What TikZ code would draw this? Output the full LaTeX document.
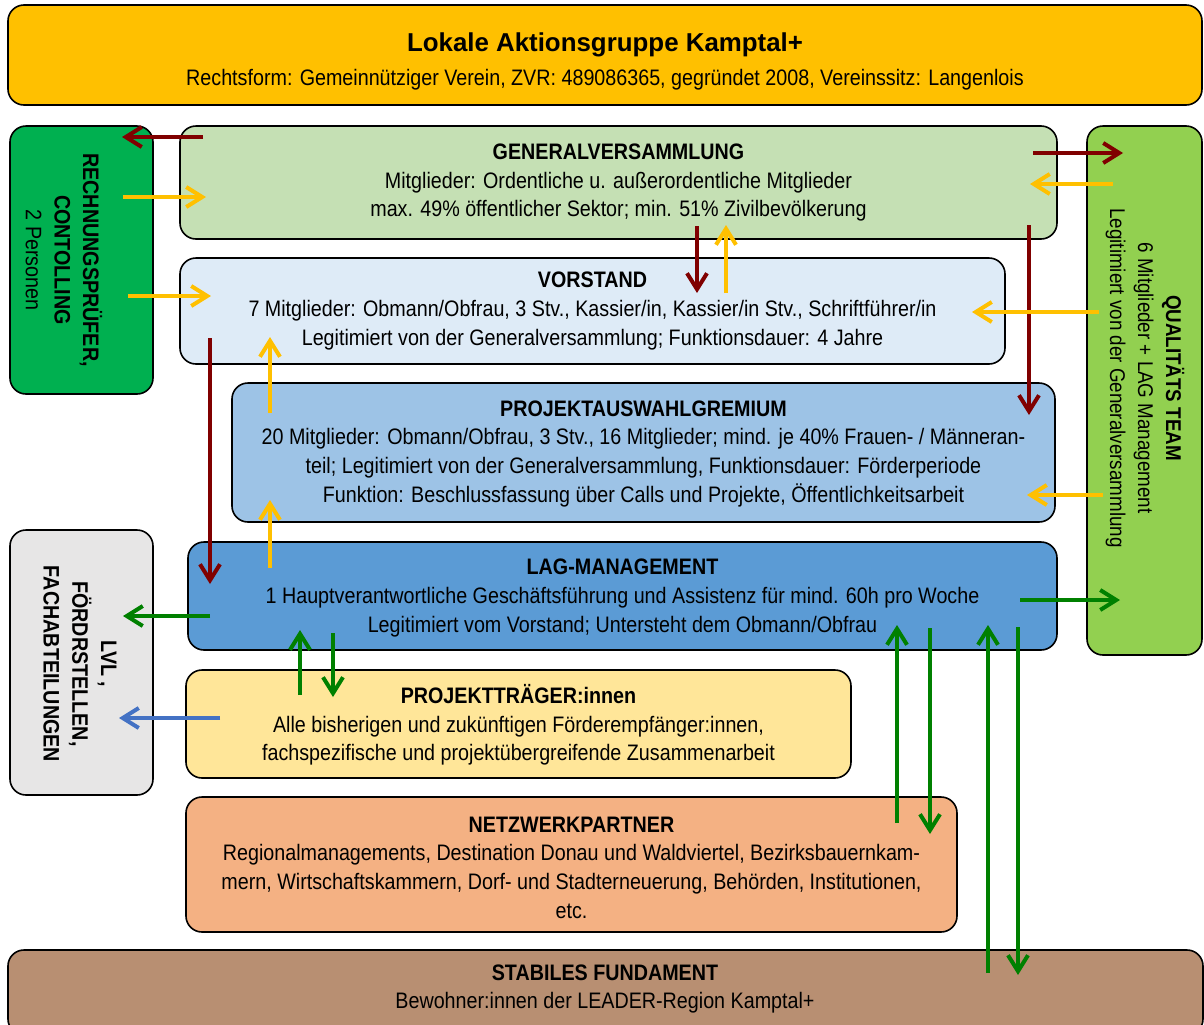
\documentclass[tikz,border=0pt]{standalone}
\usepackage{fontspec}
\setmainfont{Liberation Sans}[FakeStretch=0.88]
\newfontfamily\titlefont{Liberation Sans}
\usetikzlibrary{arrows.meta,calc}
\newdimen\px \px=0.75pt
\definecolor{cTop}{HTML}{FFC000}
\definecolor{cRP}{HTML}{00B050}
\definecolor{cGV}{HTML}{C5E0B4}
\definecolor{cVS}{HTML}{DEEBF7}
\definecolor{cPAG}{HTML}{9DC3E6}
\definecolor{cLAG}{HTML}{5B9BD5}
\definecolor{cPT}{HTML}{FFE699}
\definecolor{cNW}{HTML}{F4B183}
\definecolor{cFund}{HTML}{B88F72}
\definecolor{cLVL}{HTML}{E7E6E6}
\definecolor{cQT}{HTML}{92D050}
\definecolor{aRed}{HTML}{800000}
\definecolor{aYel}{HTML}{FFC000}
\definecolor{aGrn}{HTML}{008000}
\definecolor{aBlu}{HTML}{4472C4}
\begin{document}
\begin{tikzpicture}[x=0.75pt,y=-0.75pt,
  box/.style={draw=black, line width=1.2pt, rounded corners=16\px, inner sep=0pt, outer sep=0pt, anchor=north west},
  btxt/.style={align=center, inner sep=0pt, font=\fontsize{16.8}{21.5}\selectfont},
  arr/.style={line width=3pt, -{Straight Barb[length=12pt,width=15pt]}},
  redarr/.style={arr, draw=aRed},
  yelarr/.style={arr, draw=aYel},
  grnarr/.style={arr, draw=aGrn},
  bluarr/.style={arr, draw=aBlu}]
\useasboundingbox (0,0) rectangle (1204,1025);

% boxes
\node[box, fill=cTop, minimum width=1194\px, minimum height=100\px] (top) at (8,5) {};
\node[btxt, font=\titlefont\bfseries\fontsize{19.4}{23}\selectfont] (ttl) at ($(top.north west)+(597,40)$) {Lokale Aktionsgruppe Kamptal+};
\node[btxt] (sub) at ($(top.north west)+(597,75)$) {Rechtsform: Gemeinnütziger Verein, ZVR: 489086365, gegründet 2008, Vereinssitz: Langenlois};

\node[box, fill=cRP, minimum width=143\px, minimum height=268\px] (rp) at (10,126) {};
\node[btxt, rotate=-90] (rpt) at (64,260) {\textbf{RECHNUNGSPRÜFER,}\\ \textbf{CONTOLLING}\\ 2 Personen};

\node[box, fill=cLVL, minimum width=143\px, minimum height=265\px] (lvl) at (10,530) {};
\node[btxt, rotate=-90, font=\bfseries\fontsize{16.8}{21.5}\selectfont] (lvlt) at (80,664) {LVL ,\\ FÖRDRSTELLEN,\\ FACHABTEILUNGEN};

\node[box, fill=cQT, minimum width=115\px, minimum height=529\px] (qt) at (1087,126) {};
\node[btxt, rotate=-90, font=\fontsize{16}{21}\selectfont] (qtt) at (1145,378) {\textbf{QUALITÄTS TEAM}\\ 6 Mitglieder + LAG Management\\ Legitimiert von der Generalversammlung};

\node[box, fill=cGV, minimum width=877\px, minimum height=113\px] (gv) at (180,126) {};
\node[btxt] (gvt) at (gv.center) {\textbf{GENERALVERSAMMLUNG}\\ Mitglieder: Ordentliche u. außerordentliche Mitglieder\\ max. 49\% öffentlicher Sektor; min. 51\% Zivilbevölkerung};

\node[box, fill=cVS, minimum width=825\px, minimum height=106\px] (vs) at (180,258) {};
\node[btxt] (vst) at (vs.center) {\textbf{VORSTAND}\\ 7 Mitglieder: Obmann/Obfrau, 3 Stv., Kassier/in, Kassier/in Stv., Schriftführer/in\\ Legitimiert von der Generalversammlung; Funktionsdauer: 4 Jahre};

\node[box, fill=cPAG, minimum width=823\px, minimum height=139\px] (pag) at (232,383) {};
\node[btxt] (pagt) at ($(pag.center)+(0,1)$) {\textbf{PROJEKTAUSWAHLGREMIUM}\\ 20 Mitglieder: Obmann/Obfrau, 3 Stv., 16 Mitglieder; mind. je 40\% Frauen- / Männeran-\\ teil; Legitimiert von der Generalversammlung, Funktionsdauer: Förderperiode\\ Funktion: Beschlussfassung über Calls und Projekte, Öffentlichkeitsarbeit};

\node[box, fill=cLAG, minimum width=869\px, minimum height=108\px] (lag) at (188,542) {};
\node[btxt] (lagt) at ($(lag.center)+(0,2)$) {\textbf{LAG-MANAGEMENT}\\ 1 Hauptverantwortliche Geschäftsführung und Assistenz für mind. 60h pro Woche\\ Legitimiert vom Vorstand; Untersteht dem Obmann/Obfrau};

\node[box, fill=cPT, minimum width=665\px, minimum height=108\px] (pt) at (186,670) {};
\node[btxt] (ptt) at ($(pt.center)+(0,1)$) {\textbf{PROJEKTTRÄGER:innen}\\ Alle bisherigen und zukünftigen Förderempfänger:innen,\\ fachspezifische und projektübergreifende Zusammenarbeit};

\node[box, fill=cNW, minimum width=771\px, minimum height=135\px] (nw) at (186,797) {};
\node[btxt] (nwt) at ($(nw.center)+(0,3)$) {\textbf{NETZWERKPARTNER}\\ Regionalmanagements, Destination Donau und Waldviertel, Bezirksbauernkam-\\ mern, Wirtschaftskammern, Dorf- und Stadterneuerung, Behörden, Institutionen,\\ etc.};

\node[box, fill=cFund, minimum width=1195\px, minimum height=85\px] (fund) at (8,950) {};
\node[btxt] (fundt) at ($(fund.north west)+(597,39)$) {\textbf{STABILES FUNDAMENT}\\ Bewohner:innen der LEADER-Region Kamptal+};

% connectors
\draw[redarr] ($(gv.north west)+(23,11)$) -- ($(rp.north east)+(-31,11)$);
\draw[yelarr] ($(rp.north east)+(-30,71)$) -- ($(gv.north west)+(26,71)$);
\draw[yelarr] ($(rp.north east)+(-25,170)$) -- ($(vs.north west)+(31,38)$);
\draw[redarr] ($(vs.north west)+(30,80)$) -- ($(lag.north west)+(22,42)$);
\draw[yelarr] ($(pag.north west)+(38,30)$) -- ($(vs.north west)+(90,79)$);
\draw[yelarr] ($(lag.north west)+(82,26)$) -- ($(pag.north west)+(38,117)$);
\draw[redarr] ($(gv.north west)+(517,100)$) -- ($(vs.north west)+(517,35)$);
\draw[yelarr] ($(vs.north west)+(546,35)$) -- ($(gv.north west)+(546,99)$);
\draw[redarr] ($(gv.north east)+(-24,27)$) -- ($(qt.north west)+(36,27)$);
\draw[yelarr] ($(qt.north west)+(26,58)$) -- ($(gv.north east)+(-27,58)$);
\draw[redarr] ($(gv.north east)+(-28,99)$) -- ($(pag.north east)+(-26,32)$);
\draw[yelarr] ($(qt.north west)+(12,186)$) -- ($(vs.north east)+(-33,54)$);
\draw[yelarr] ($(qt.north west)+(16,369)$) -- ($(pag.north east)+(-28,112)$);
\draw[grnarr] ($(lag.north east)+(-37,58)$) -- ($(qt.north west)+(33,474)$);
\draw[grnarr] ($(lag.north west)+(22,74)$) -- ($(lvl.north east)+(-30,86)$);
\draw[bluarr] ($(pt.north west)+(34,48)$) -- ($(lvl.north east)+(-34,188)$);
\draw[grnarr] ($(pt.north west)+(114,25)$) -- ($(lag.north west)+(112,88)$);
\draw[grnarr] ($(lag.north west)+(145,91)$) -- ($(pt.north west)+(147,27)$);
\draw[grnarr] ($(nw.north west)+(711,26)$) -- ($(lag.north west)+(709,83)$);
\draw[grnarr] ($(lag.north west)+(742,86)$) -- ($(nw.north west)+(744,37)$);
\draw[grnarr] ($(fund.north west)+(980,23)$) -- ($(lag.north west)+(800,83)$);
\draw[grnarr] ($(lag.north west)+(830,85)$) -- ($(fund.north west)+(1010,25)$);
\end{tikzpicture}
\end{document}
